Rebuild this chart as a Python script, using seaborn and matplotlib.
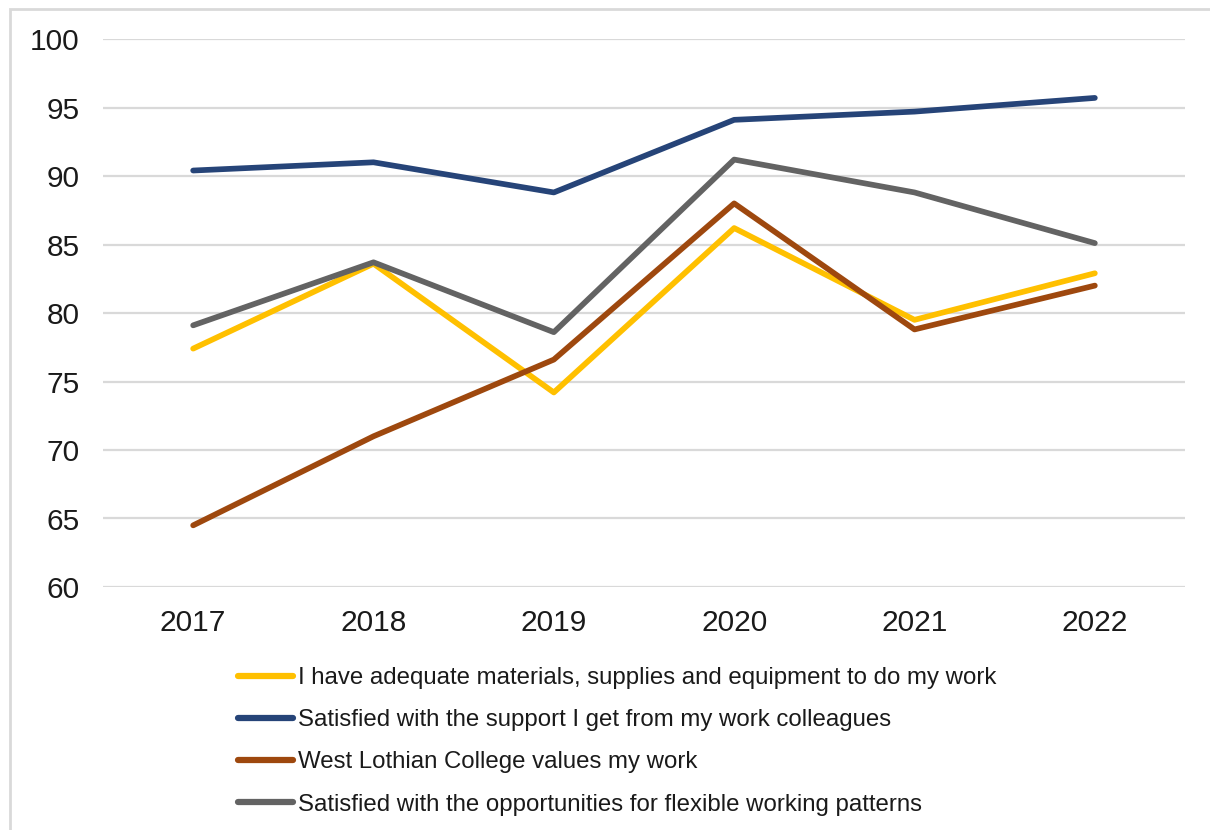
import matplotlib
matplotlib.use("Agg")
import matplotlib.pyplot as plt
import seaborn as sns
import pandas as pd
from matplotlib.patches import Rectangle

years = ["2017", "2018", "2019", "2020", "2021", "2022"]
series_names = [
    "I have adequate materials, supplies and equipment to do my work",
    "Satisfied with the support I get from my work colleagues",
    "West Lothian College values my work",
    "Satisfied with the opportunities for flexible working patterns",
]
materials = [77.4, 83.6, 74.2, 86.2, 79.5, 82.9]
support = [90.4, 91.0, 88.8, 94.1, 94.7, 95.7]
values_work = [64.5, 71.0, 76.6, 88.0, 78.8, 82.0]
flexible = [79.1, 83.7, 78.6, 91.2, 88.8, 85.1]
colors = ["#FFC000", "#264478", "#9E480E", "#636363"]
y_ticks = [60, 65, 70, 75, 80, 85, 90, 95, 100]

rows = []
for name, vals in zip(series_names, [materials, support, values_work, flexible]):
    for i, (yr, v) in enumerate(zip(years, vals)):
        rows.append({"pos": i, "year": yr, "series": name, "value": v})
df = pd.DataFrame(rows)

sns.set_theme(style="white")
plt.rcParams["font.family"] = ["Liberation Sans", "DejaVu Sans"]

fig = plt.figure(figsize=(12.1, 8.3), dpi=100)
ax = fig.add_axes([103 / 1210, 1 - 587 / 830, (1185 - 103) / 1210, (587 - 39) / 830])

sns.lineplot(data=df, x="pos", y="value", hue="series", hue_order=series_names,
             palette=colors, linewidth=4.1, ax=ax, legend=True,
             solid_capstyle="round", solid_joinstyle="round")

ax.set_xlim(-0.5, 5.5)
ax.set_ylim(60, 100)
ax.set_yticks(y_ticks)
ax.set_yticklabels([str(t) for t in y_ticks])
ax.set_xticks(range(len(years)))
ax.set_xticklabels(years)
ax.set_xlabel("")
ax.set_ylabel("")
ax.grid(axis="y", color="#D9D9D9", linewidth=1.6)
ax.grid(axis="x", visible=False)
ax.set_axisbelow(True)
for s in ax.spines.values():
    s.set_visible(False)
ax.tick_params(axis="y", length=0, pad=17, labelsize=21.5, labelcolor="#1a1a1a")
ax.tick_params(axis="x", length=0, pad=16, labelsize=21.5, labelcolor="#1a1a1a")

handles, labels = ax.get_legend_handles_labels()
for h in handles:
    h.set_linewidth(4.5)
    h.set_solid_capstyle("round")
leg = ax.legend(handles, labels, loc="upper left",
                bbox_to_anchor=(238 / 1210, 1 - 667 / 830),
                bbox_transform=fig.transFigure, frameon=False,
                fontsize=17.3, handlelength=2.3, handletextpad=0.2,
                labelspacing=0.84, borderaxespad=0, borderpad=0)
for t in leg.get_texts():
    t.set_color("#1a1a1a")

fig.patches.append(Rectangle((10 / 1210, -0.1), 1.2, 1.1 - 9 / 830,
                             transform=fig.transFigure, fill=False,
                             edgecolor="#D9D9D9", linewidth=2, zorder=-1))

fig.savefig("out.png", dpi=100)
